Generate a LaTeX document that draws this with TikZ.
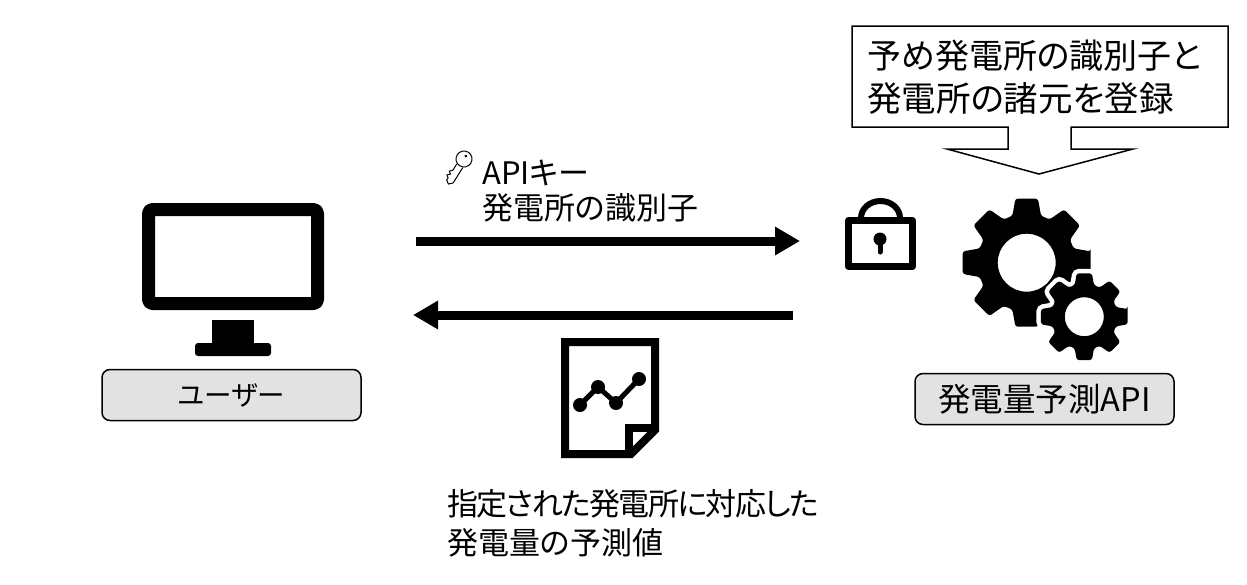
\documentclass[tikz,border=0pt]{standalone}
\usepackage{fontspec}
\setmainfont[RawFeature=+palt]{Noto Sans CJK JP}
\usetikzlibrary{arrows.meta}
\definecolor{boxgray}{HTML}{E2E2E2}
\newcommand{\gearpath}[6]{% style, x, y, outer, root, hole
\path [#1,even odd rule,rounded corners=2.5pt,shift={(#2,#3)}] (-10:#4)
\foreach \a in {0,45,...,315} {-- (\a-10:#4) -- (\a+10:#4) -- (\a+17:#5) -- (\a+28:#5)} -- cycle
[sharp corners] (0,0) circle (#6);
}
\tikzset{
label/.style={font=\fontsize{31}{35}\selectfont,inner sep=0pt,anchor=west},
namebox/.style={draw,line width=1.5pt,fill=boxgray,rounded corners=8pt,font=\fontsize{32.5}{35}\selectfont,inner sep=0pt},
flow/.style={line width=9pt,-{Triangle[length=25pt,width=27pt]}}
}
\begin{document}
\begin{tikzpicture}[x=1pt,y=-1pt]
\useasboundingbox (0,0) rectangle (1247,584);
% callout
\draw [line width=1.5pt] (852,26) -- (1228,26) -- (1228,127) -- (1071,127) -- (1071,149) -- (1133,149) -- (1039,174) -- (947,149) -- (1008,149) -- (1008,127) -- (852,127) -- cycle;
\node [label,font=\fontsize{34}{35}\selectfont] (note1) at (867,56) {予め発電所の識別子と};
\node [label,font=\fontsize{34.5}{35}\selectfont] (note2) at (867,98) {発電所の諸元を登録};
% monitor
\draw [line width=13pt,rounded corners=4pt,line join=round] (148.5,209.5) rectangle (317.5,303.5);
\fill (212,320) rectangle (254,345);
\fill [rounded corners=3pt] (195,343) rectangle (271,356);
\node [namebox,font=\fontsize{27.5}{35}\selectfont,minimum width=259pt,minimum height=51pt] (user) at (231.5,395) {ユーザー};
% arrows
\coordinate (reqstart) at (416,241);
\coordinate (reqend) at (800,241);
\coordinate (resstart) at (793,315);
\coordinate (resend) at (413,315);
\draw [flow] (reqstart) -- (reqend);
\draw [flow] (resstart) -- (resend);
% key
\begin{scope}[shift={(464,159)},rotate=-122,line width=1pt]
\draw (0,0) circle (8);
\fill (-3.5,0) circle (1.5);
\draw (8,-3.5) -- (26,-3.5) -- (29.5,0) -- (27,3.5) -- (24.5,3.5) -- (22.5,6) -- (20,3.5) -- (18,6) -- (15.5,3.5) -- (8,3.5);
\end{scope}
\node [label] (key) at (482,173) {APIキー};
\node [label] (plantid) at (482,208) {発電所の識別子};
% lock
\draw [line width=7pt,line join=round] (848.5,220.5) rectangle (912.5,266.5);
\draw [line width=6pt] (861,218) arc (180:360:19.5 and 17);
\fill (880,239) circle (6.5);
\draw [line width=5pt,line cap=round] (880,240) -- (880,252);
% gears
\gearpath{fill}{1026.7}{262.7}{65}{49}{29}
\gearpath{draw=white,line width=9pt}{1084.3}{316.7}{44}{33}{19.5}
\fill [white] (1084.3,316.7) circle (34);
\gearpath{fill}{1084.3}{316.7}{44}{33}{19.5}
\node [namebox,minimum width=259pt,minimum height=51pt] (api) at (1044.5,399) {発電量予測API};
% document
\draw [line width=8pt] (565,342) -- (655,342) -- (655,430) -- (631,454) -- (565,454) -- cycle;
\draw [line width=8pt] (629,454) -- (629,428) -- (655,428);
\draw [line width=5pt] (580,405) -- (598,387) -- (616,403) -- (639,379);
\foreach \x/\y in {580/405,598/387,616/403,639/379} \fill (\x,\y) circle (7);
\node [label] (result1) at (447,504) {\addfontfeature{LetterSpace=-5.2}指定された発電所に対応した};
\node [label] (result2) at (447,543) {発電量の予測値};
\end{tikzpicture}
\end{document}
